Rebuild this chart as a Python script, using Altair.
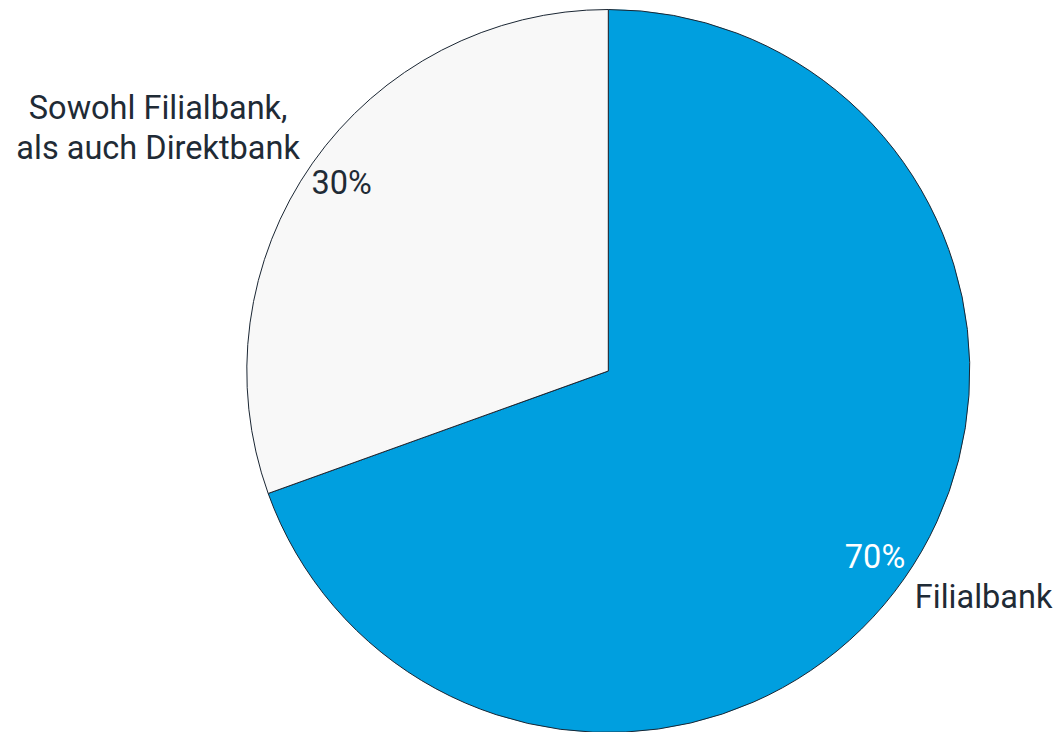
import altair as alt
import pandas as pd

categories = ["Filialbank", "Sowohl Filialbank,\nals auch Direktbank"]
shares = [69.5, 30.5]
pct_labels = ["70%", "30%"]

df = pd.DataFrame({
    "category": categories,
    "share": shares,
    "pct": pct_labels,
    "rank": [0, 1],
})

CX, CY = 608.3, 371
FONT = "Roboto"
DARK = "#1f2b36"
FS = 32.5

base = alt.Chart(df).transform_calculate(
    lab_a="datum.rank == 0 ? datum.category : ''",
    lab_b="datum.rank == 1 ? datum.category : ''",
).encode(
    theta=alt.Theta("share:Q", stack=True),
    order=alt.Order("rank:O"),
    x=alt.value(CX),
    y=alt.value(CY),
)

pie = base.mark_arc(radius=361.5, stroke="#1a2633", strokeWidth=1).encode(
    color=alt.Color("category:N", scale=alt.Scale(domain=categories, range=["#009FDF", "#F8F8F8"]), legend=None)
)

pct = base.mark_text(radius=326, font=FONT, fontSize=FS, align="center", baseline="middle").encode(
    text="pct:N",
    color=alt.Color("category:N", scale=alt.Scale(domain=categories, range=["#ffffff", DARK]), legend=None),
)

lab1 = base.mark_text(
    radius=382, font=FONT, fontSize=FS, align="left", baseline="middle", color=DARK,
    dx=-6, dy=7
).encode(text="lab_a:N")

lab2 = base.mark_text(
    radius=395, font=FONT, fontSize=FS, align="center", baseline="middle", color=DARK,
    lineBreak="\n", lineHeight=40, dx=-127, dy=-35
).encode(text="lab_b:N")

chart = alt.layer(pie, pct, lab1, lab2).resolve_scale(color="independent").properties(
    width=1058, height=732, padding=0, autosize=alt.AutoSizeParams(type="none")
).configure_view(stroke=None)

chart.save("out.html", embed_options={"renderer": "svg", "actions": False})
